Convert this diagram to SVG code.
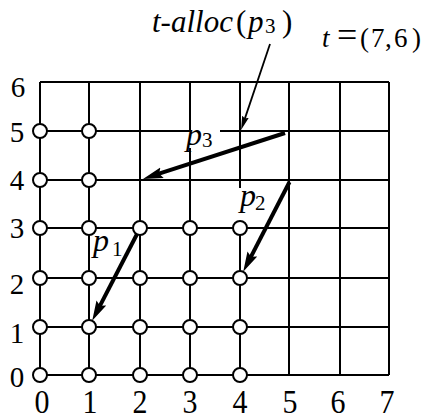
<svg xmlns="http://www.w3.org/2000/svg" width="432" height="420" viewBox="0 0 432 420">
<style>
.g{stroke:#000;stroke-width:2;fill:none}
.n{fill:#fff;stroke:#000;stroke-width:2}
text{font-family:'Liberation Serif','Tinos','Times New Roman','DejaVu Serif',serif;fill:#000}
.ax{font-size:29px;text-anchor:middle}
.axx{font-size:30px;text-anchor:middle}
.it{font-style:italic}
.a{stroke:#000;stroke-width:4;fill:none}
.as{stroke:#000;stroke-width:1.8;fill:none}
</style>
<defs>
<marker id="ah" markerUnits="userSpaceOnUse" markerWidth="22" markerHeight="12" viewBox="0 -6 22 12" refX="8" refY="0" orient="auto"><path d="M0,-5.5 L20,0 L0,5.5 L3,0 z" fill="#000"/></marker>
<marker id="ahs" markerUnits="userSpaceOnUse" markerWidth="16" markerHeight="8" viewBox="0 -4 16 8" refX="6" refY="0" orient="auto"><path d="M0,-3.5 L14,0 L0,3.5 L2,0 z" fill="#000"/></marker>
</defs>
<rect width="432" height="420" fill="#fff"/>
<g id="grid" class="g">
<path d="M40,82H389 M40,131H190 M220,131H389 M40,180H389 M40,228H389 M40,278H389 M40,327H389 M40,375H389"/>
<path d="M40,82V375 M89,82V375 M140,82V375 M190,82V132 M190,148V375 M240,82V188 M240,227V375 M289,82V375 M340,82V375 M389,82V375"/>
</g>
<g id="nodes">
<circle class="n" cx="40" cy="131" r="7"/><circle class="n" cx="89" cy="131" r="7"/>
<circle class="n" cx="40" cy="180" r="7"/><circle class="n" cx="89" cy="180" r="7"/>
<circle class="n" cx="40" cy="228" r="7"/><circle class="n" cx="89" cy="228" r="7"/><circle class="n" cx="140" cy="228" r="7"/><circle class="n" cx="190" cy="228" r="7"/><circle class="n" cx="240" cy="228" r="7"/>
<circle class="n" cx="40" cy="278" r="7"/><circle class="n" cx="89" cy="278" r="7"/><circle class="n" cx="140" cy="278" r="7"/><circle class="n" cx="190" cy="278" r="7"/><circle class="n" cx="240" cy="278" r="7"/>
<circle class="n" cx="40" cy="327" r="7"/><circle class="n" cx="89" cy="327" r="7"/><circle class="n" cx="140" cy="327" r="7"/><circle class="n" cx="190" cy="327" r="7"/><circle class="n" cx="240" cy="327" r="7"/>
<circle class="n" cx="40" cy="375" r="7"/><circle class="n" cx="89" cy="375" r="7"/><circle class="n" cx="140" cy="375" r="7"/><circle class="n" cx="190" cy="375" r="7"/><circle class="n" cx="240" cy="375" r="7"/>
</g>
<g id="connectors">
<line class="a" x1="136.8" y1="234.5" x2="97.7" y2="310.1" marker-end="url(#ah)"/>
<line class="a" x1="289.5" y1="182" x2="248.7" y2="261.1" marker-end="url(#ah)"/>
<line class="a" x1="285" y1="133" x2="154.4" y2="175.2" marker-end="url(#ah)"/>
<line class="as" x1="270" y1="44" x2="243.6" y2="122.4" marker-end="url(#ahs)"/>
</g>
<g id="labels">
<text class="ax" x="18" y="97">6</text>
<text class="ax" x="17" y="142">5</text>
<text class="ax" x="17" y="190">4</text>
<text class="ax" x="17" y="238">3</text>
<text class="ax" x="17" y="294">2</text>
<text class="ax" x="17" y="343">1</text>
<text class="ax" x="17" y="387">0</text>
<text class="axx" transform="translate(42,413) scale(1,1.15)">0</text>
<text class="axx" transform="translate(90,413) scale(1,1.15)">1</text>
<text class="axx" transform="translate(140,413) scale(1,1.15)">2</text>
<text class="axx" transform="translate(190,413) scale(1,1.15)">3</text>
<text class="axx" transform="translate(240,413) scale(1,1.15)">4</text>
<text class="axx" transform="translate(290,413) scale(1,1.15)">5</text>
<text class="axx" transform="translate(338,413) scale(1,1.15)">6</text>
<text class="axx" transform="translate(387,413) scale(1,1.15)">7</text>
<text id="talloc" y="32" font-size="31"><tspan class="it" x="152">t-alloc</tspan><tspan x="236">(</tspan><tspan class="it" x="248">p</tspan><tspan x="265" y="33" font-size="21">3</tspan><tspan x="282" y="32">)</tspan></text>
<text id="tsize" y="47" font-size="27"><tspan class="it" x="322">t</tspan><tspan x="337" font-size="36">=</tspan><tspan x="360">(</tspan><tspan x="371">7</tspan><tspan x="385">,</tspan><tspan x="394">6</tspan><tspan x="412">)</tspan></text>
<text id="p3" font-size="32"><tspan class="it" x="186" y="145">p</tspan><tspan x="202" y="147" font-size="21">3</tspan></text>
<text id="p2" font-size="32"><tspan class="it" x="240" y="206">p</tspan><tspan x="255" y="210" font-size="21">2</tspan></text>
<text id="p1" font-size="32"><tspan class="it" x="93" y="251">p</tspan><tspan x="112" y="256" font-size="21">1</tspan></text>
</g>
</svg>
